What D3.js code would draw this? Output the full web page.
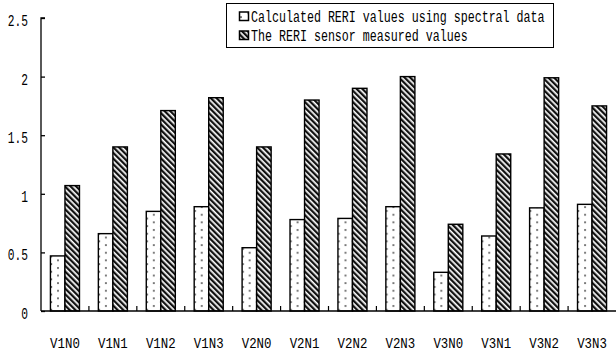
<!DOCTYPE html>
<html>
<head>
<meta charset="utf-8">
<script src="https://cdn.jsdelivr.net/npm/d3@7"></script>
<style>
  html, body { margin: 0; padding: 0; background: #fff; }
  svg { display: block; }
  text { font-family: "Liberation Mono", "DejaVu Sans Mono", monospace; fill: #000; }
</style>
</head>
<body>
<svg id="chart" width="616" height="351"></svg>
<script>
// Treatment groups along the x axis
const categories = ["V1N0", "V1N1", "V1N2", "V1N3", "V2N0", "V2N1", "V2N2", "V2N3", "V3N0", "V3N1", "V3N2", "V3N3"];
// RERI computed from spectral data
const calculatedValues = [0.47, 0.66, 0.85, 0.89, 0.54, 0.78, 0.79, 0.89, 0.33, 0.64, 0.88, 0.91];
// RERI read from the sensor
const measuredValues = [1.07, 1.40, 1.71, 1.82, 1.40, 1.80, 1.90, 2.00, 0.74, 1.34, 1.99, 1.75];
const seriesNames = ["Calculated RERI values using spectral data", "The RERI sensor measured values"];
const yTicks = [0, 0.5, 1, 1.5, 2, 2.5];
const yTickLabels = ["0", "0.5", "1", "1.5", "2", "2.5"];

const svg = d3.select("#chart");
const plotLeft = 41, plotRight = 616, plotTop = 18, plotBottom = 311;

const defs = svg.append("defs");
// Dotted fill for the calculated series
const dots = defs.append("pattern").attr("id", "dots")
  .attr("patternUnits", "userSpaceOnUse").attr("width", 14).attr("height", 7.6);
dots.append("rect").attr("width", 14).attr("height", 7.6).attr("fill", "#fff");
dots.append("circle").attr("cx", 3).attr("cy", 2).attr("r", 1).attr("fill", "#555");
dots.append("circle").attr("cx", 10.3).attr("cy", 5.8).attr("r", 1).attr("fill", "#555");
// Diagonal hatch for the sensor series
const hatch = defs.append("pattern").attr("id", "hatch")
  .attr("patternUnits", "userSpaceOnUse").attr("width", 4).attr("height", 4)
  .attr("patternTransform", "rotate(-45)");
hatch.append("rect").attr("width", 4).attr("height", 4).attr("fill", "#fff");
hatch.append("rect").attr("width", 2.3).attr("height", 4).attr("fill", "#111");

const fills = ["url(#dots)", "url(#hatch)"];

const x0 = d3.scaleBand().domain(categories).range([plotLeft, plotRight]);
const x1 = d3.scaleBand().domain([0, 1]).range([0, x0.bandwidth()])
  .paddingInner(0).paddingOuter(0.65);
const y = d3.scaleLinear().domain([0, 2.5]).range([plotBottom, plotTop]);

// Condensed text helper
function label(g, str, x, yy, anchor, size, sx) {
  return g.append("text")
    .attr("transform", `translate(${x},${yy}) scale(${sx},1)`)
    .attr("text-anchor", anchor)
    .attr("font-size", size)
    .text(str);
}

// Bars
const groups = svg.append("g").selectAll("g").data(categories).join("g")
  .attr("transform", d => `translate(${x0(d)},0)`);
groups.selectAll("rect")
  .data((d, i) => [calculatedValues[i], measuredValues[i]].map((v, k) => ({ v, k })))
  .join("rect")
  .attr("x", d => x1(d.k))
  .attr("y", d => y(d.v))
  .attr("width", x1.bandwidth())
  .attr("height", d => plotBottom - y(d.v))
  .attr("fill", d => fills[d.k])
  .attr("stroke", "#000")
  .attr("stroke-width", 1.4);

// Y axis
const yAxis = svg.append("g").attr("transform", `translate(${plotLeft},0)`)
  .call(d3.axisRight(y).tickValues(yTicks).tickSize(4).tickFormat(""));
yAxis.select(".domain").attr("d", `M4,${plotTop}H0V${plotBottom}`).attr("stroke", "#000").attr("stroke-width", 1.3);
yAxis.selectAll(".tick line").attr("stroke", "#000").attr("stroke-width", 1.3);
const yl = svg.append("g");
yTicks.forEach((t, i) => label(yl, yTickLabels[i], 28, y(t) + 8, "end", 17, 0.66));

// X axis with inward ticks at the category boundaries
svg.append("line").attr("x1", plotLeft).attr("x2", plotRight).attr("y1", plotBottom).attr("y2", plotBottom)
  .attr("stroke", "#000").attr("stroke-width", 1.4);
svg.append("g").selectAll("line").data(categories.slice(1)).join("line")
  .attr("x1", d => x0(d)).attr("x2", d => x0(d))
  .attr("y1", plotBottom).attr("y2", plotBottom - 5)
  .attr("stroke", "#000").attr("stroke-width", 1.2);
const xl = svg.append("g");
categories.forEach(c => label(xl, c, x0(c) + x0.bandwidth() / 2, 347.5, "middle", 15.5, 0.8));

// Legend
const lg = svg.append("g");
lg.append("rect").attr("x", 226.5).attr("y", 3.5).attr("width", 327).attr("height", 44)
  .attr("fill", "#fff").attr("stroke", "#000").attr("stroke-width", 1);
seriesNames.forEach((name, i) => {
  const base = 22 + i * 19;
  lg.append("rect").attr("x", 239.5).attr("y", base - 10).attr("width", 9).attr("height", 8.5)
    .attr("fill", fills[i]).attr("stroke", "#000").attr("stroke-width", 1.5);
  label(lg, name, 251, base, "start", 16.5, 0.707);
});
</script>
</body>
</html>
